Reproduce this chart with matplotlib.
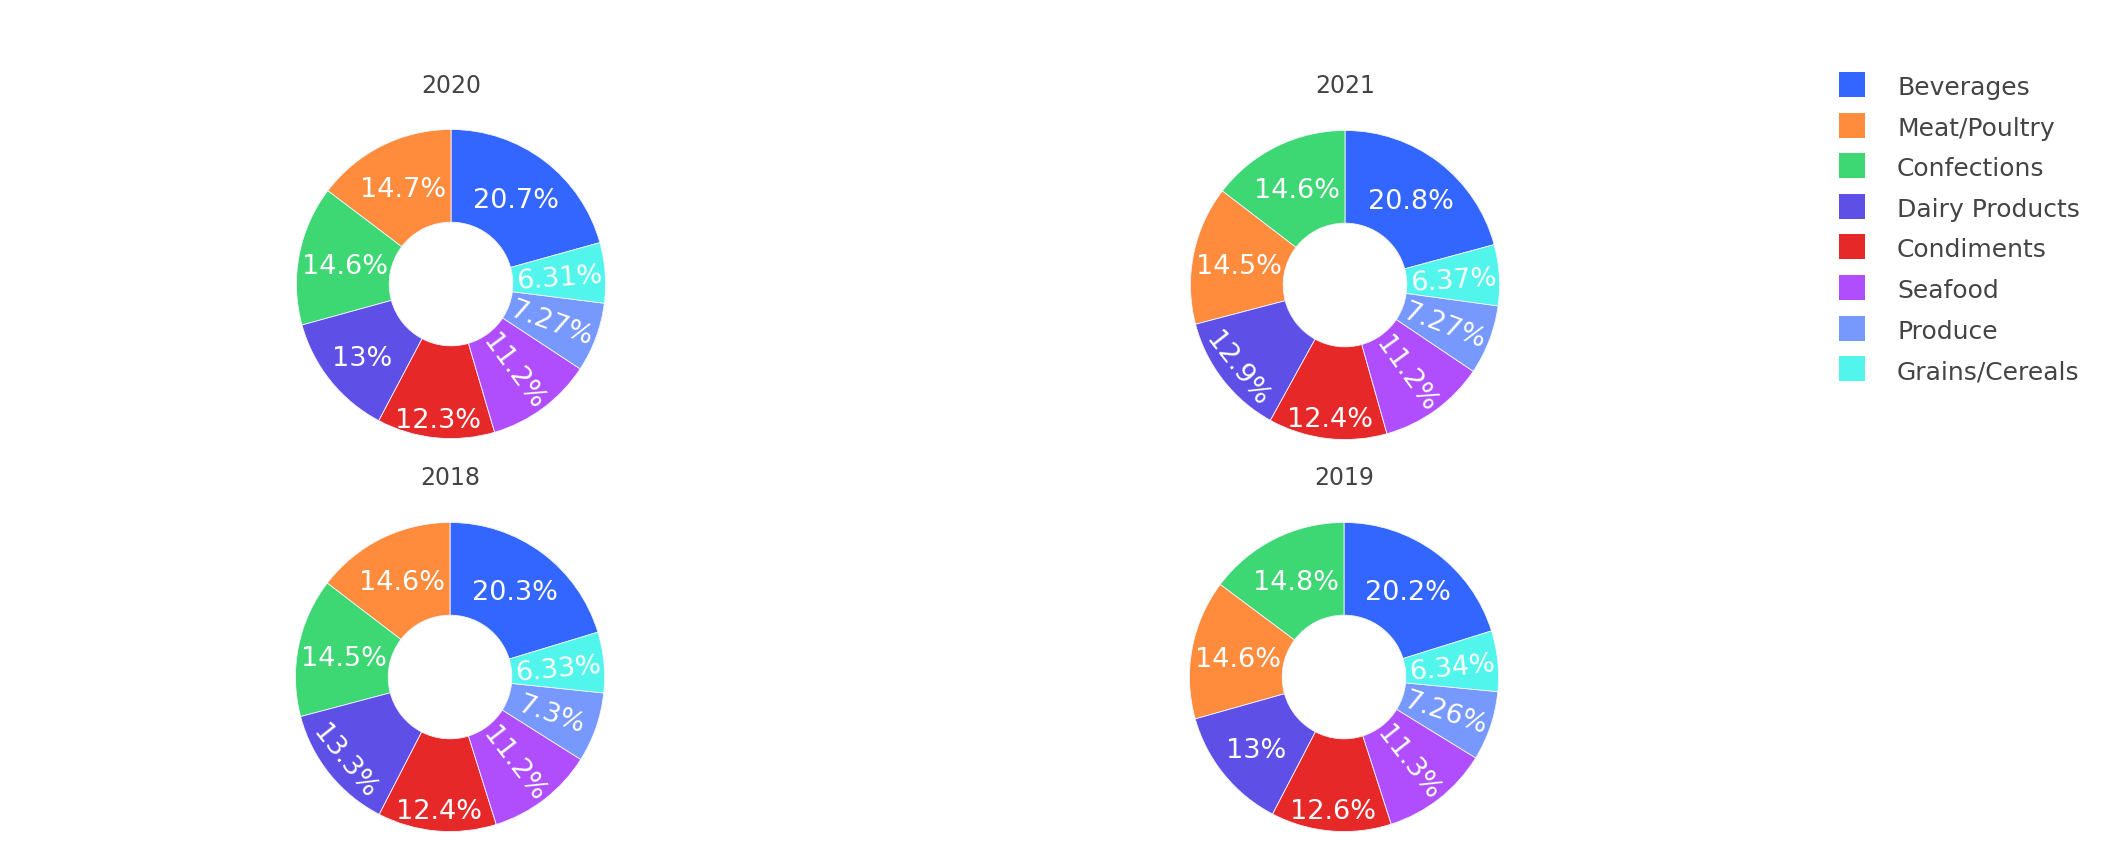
import matplotlib
matplotlib.use("Agg")
import matplotlib.pyplot as plt
from matplotlib.patches import Rectangle
import numpy as np

# ---------------- data ----------------
categories = ["Beverages", "Meat/Poultry", "Confections", "Dairy Products",
              "Condiments", "Seafood", "Produce", "Grains/Cereals"]
years = ["2020", "2021", "2018", "2019"]
share_2020 = [20.7, 14.7, 14.6, 13.0, 12.3, 11.2, 7.27, 6.31]
share_2021 = [20.8, 14.5, 14.6, 12.9, 12.4, 11.2, 7.27, 6.37]
share_2018 = [20.3, 14.6, 14.5, 13.3, 12.4, 11.2, 7.30, 6.33]
share_2019 = [20.2, 14.6, 14.8, 13.0, 12.6, 11.3, 7.26, 6.34]
shares = {"2020": share_2020, "2021": share_2021, "2018": share_2018, "2019": share_2019}

# ---------------- style ----------------
colors = ["#3366FE", "#FE8C3C", "#3DD773", "#5E4FE6",
          "#E62828", "#B04EFE", "#7799FE", "#52F5EC"]
W, H = 2118, 856
centers = {"2020": (451, 284), "2021": (1345, 285), "2018": (450, 677), "2019": (1344, 677)}
title_baseline = {"2020": 93, "2021": 93, "2018": 485, "2019": 485}
# label orientation: h=horizontal, r=radial, t=tangential
orient = {
    "2020": {"Seafood": "r", "Produce": "r", "Grains/Cereals": "r"},
    "2021": {"Dairy Products": "t", "Seafood": "r", "Produce": "r", "Grains/Cereals": "r"},
    "2018": {"Dairy Products": "t", "Seafood": "r", "Produce": "r", "Grains/Cereals": "r"},
    "2019": {"Seafood": "r", "Produce": "r", "Grains/Cereals": "r"},
}
rpos = {
    "2020": {"Condiments": 0.87, "Dairy Products": 0.74},
    "2021": {"Condiments": 0.86, "Dairy Products": 0.87},
    "2018": {"Condiments": 0.86, "Dairy Products": 0.86},
    "2019": {"Condiments": 0.86, "Dairy Products": 0.73},
}
S = 340          # axes size in px
LIM = 1.1        # radius 1 -> 154.5 px
TXT = "#444444"

fig = plt.figure(figsize=(W / 100, H / 100), dpi=100)
fig.patch.set_facecolor("white")


def norm_rot(a):
    a = (a + 180) % 360 - 180
    if a > 90:
        a -= 180
    if a < -90:
        a += 180
    return a


for yr in years:
    vals = shares[yr]
    order = sorted(range(len(vals)), key=lambda i: -vals[i])
    svals = [vals[i] for i in order]
    scats = [categories[i] for i in order]
    scols = [colors[i] for i in order]
    cx, cy = centers[yr]
    ax = fig.add_axes([(cx - S / 2) / W, 1 - (cy + S / 2) / H, S / W, S / H])
    start = 90 - 360 * svals[0] / sum(svals)
    wedges, _ = ax.pie(svals, colors=scols, startangle=start, counterclock=True,
                       wedgeprops=dict(width=0.6, linewidth=0.6, edgecolor="#F4F4FF"))
    ax.set_xlim(-LIM, LIM)
    ax.set_ylim(-LIM, LIM)
    ax.axis("off")
    for w, v, c in zip(wedges, svals, scats):
        mid = (w.theta1 + w.theta2) / 2
        o = orient[yr].get(c, "h")
        r = rpos[yr].get(c, 0.70)
        x, y = r * np.cos(np.radians(mid)), r * np.sin(np.radians(mid))
        if o == "r":
            rot = norm_rot(mid)
        elif o == "t":
            rot = norm_rot(mid - 90)
        else:
            rot = 0
        ax.text(x, y, f"{v:.3g}%", color="white", fontsize=19.5,
                ha="center", va="center_baseline", rotation=rot,
                rotation_mode="anchor")
    fig.text(cx / W, 1 - title_baseline[yr] / H, yr, ha="center", va="baseline",
             fontsize=17, color=TXT)

# ---------------- legend ----------------
row0, step = 84.5, 40.6
for i, (cat, col) in enumerate(zip(categories, colors)):
    rc = row0 + i * step
    fig.add_artist(Rectangle(((1839) / W, 1 - (rc + 12.5) / H), 26 / W, 25 / H,
                             transform=fig.transFigure, facecolor=col,
                             edgecolor="none"))
    fig.text(1897 / W, 1 - (rc + 10.5) / H, cat, ha="left", va="baseline",
             fontsize=18, color=TXT)

fig.savefig("out.png", dpi=100)
